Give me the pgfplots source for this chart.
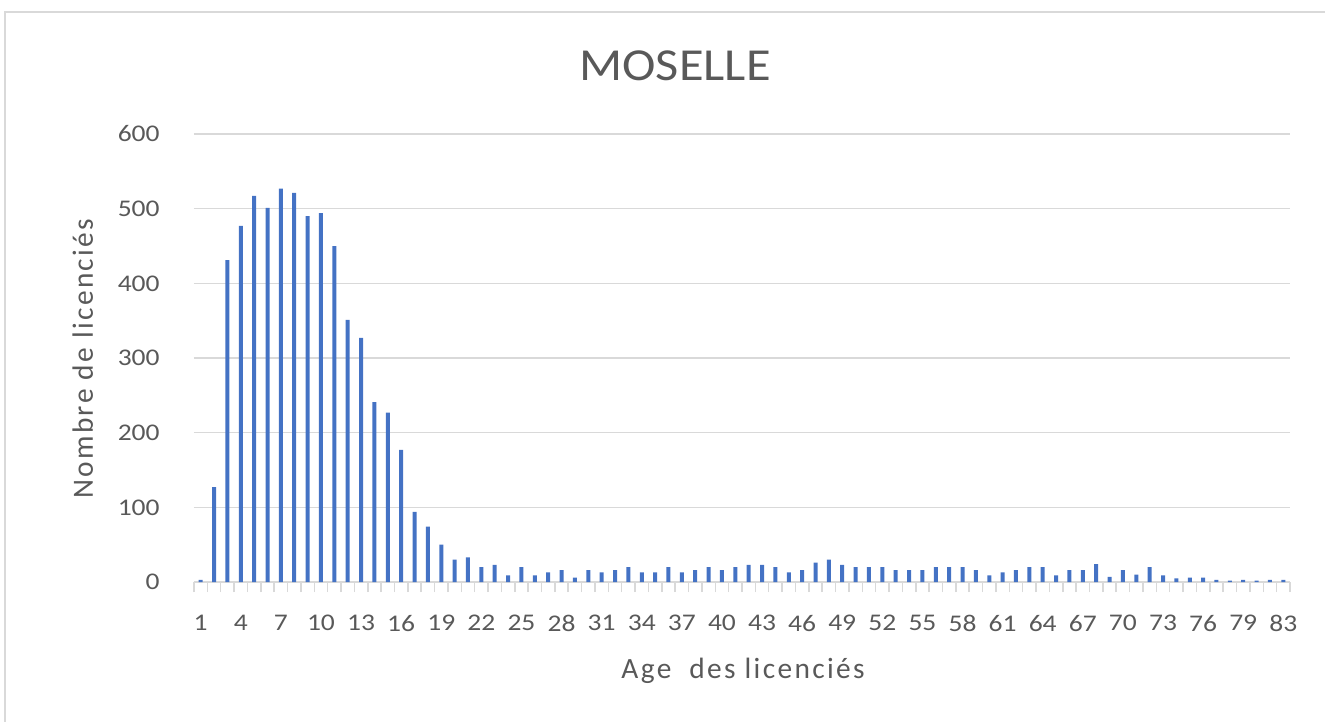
\documentclass[border=0pt]{standalone}
\usepackage{fontspec}
\setmainfont{Carlito}
\newfontfamily\tickfont[FakeStretch=1.15]{Carlito}
\newfontfamily\labelfont[LetterSpace=8]{Carlito}
\newfontfamily\titlefont[FakeStretch=1.1]{Carlito}
\usepackage{pgfplots}
\usepackage{pgfplotstable}
\pgfplotsset{compat=1.18}
\definecolor{txt}{HTML}{595959}
\definecolor{gridc}{HTML}{D9D9D9}
\definecolor{barc}{HTML}{4472C4}

\pgfplotstableread{
idx val
1 3
2 127
3 431
4 477
5 517
6 501
7 527
8 521
9 490
10 494
11 450
12 351
13 327
14 241
15 227
16 177
17 94
18 74
19 50
20 30
21 33
22 20
23 23
24 9
25 20
26 9
27 13
28 16
29 6
30 16
31 13
32 16
33 20
34 13
35 13
36 20
37 13
38 16
39 20
40 16
41 20
42 23
43 23
44 20
45 13
46 16
47 26
48 30
49 23
50 20
51 20
52 20
53 16
54 16
55 16
56 20
57 20
58 20
59 16
60 9
61 13
62 16
63 20
64 20
65 9
66 16
67 16
68 24
69 7
70 16
71 10
72 20
73 9
74 5
75 6
76 6
77 3
78 2
79 3
80 2
81 3
82 3
}\data

\begin{document}
\begin{tikzpicture}
\path[use as bounding box] (-97bp,-70bp) rectangle (565.5bp,291bp);
\draw[gridc, line width=1bp] (-94.5bp,-70bp) -- (-94.5bp,285bp) -- (565.5bp,285bp);
\begin{axis}[
  scale only axis,
  width=548bp, height=224bp,
  xmin=0.5, xmax=82.5, ymin=0, ymax=600,
  ybar, bar width=2bp,
  axis x line*=bottom, axis y line*=left,
  x axis line style={gridc, line width=0.75bp},
  y axis line style={draw=none},
  ytick={0,100,...,600},
  ymajorgrids, grid style={gridc, line width=0.75bp},
  xtick={1,4,...,82},
  xticklabels={1,4,7,10,13,16,19,22,25,28,31,34,37,40,43,46,49,52,55,58,61,64,67,70,73,76,79,83},
  minor xtick={0.5,1.5,...,82.5},
  major tick length=0pt, minor tick length=5bp, tick align=outside,
  every minor tick/.style={gridc, line width=0.75bp},
  /pgf/number format/assume math mode=true,
  xticklabel style={font=\tickfont\fontsize{12}{14}\selectfont, text=txt, inner sep=0pt, anchor=north, yshift=-16.5bp},
  yticklabel style={font=\tickfont\fontsize{12}{14}\selectfont, text=txt, inner sep=0pt, anchor=east, xshift=-17bp},
  title={MOSELLE},
  title style={at={(axis description cs:0.439,1.092)}, anchor=base, font=\titlefont\fontsize{23}{28}\selectfont, text=txt, inner sep=0pt},
  xlabel={Age\ \ des licenciés},
  xlabel style={at={(axis description cs:0.501,-0.2165)}, anchor=base, font=\labelfont\fontsize{14.75}{17}\selectfont, text=txt, inner sep=0pt},
  ylabel={Nombre de licenciés},
  ylabel style={at={(axis description cs:-0.0922,0.498)}, anchor=base, font=\labelfont\fontsize{14.75}{17}\selectfont, text=txt, inner sep=0pt},
]
\addplot[fill=barc, draw=none] table[x=idx, y=val] {\data};
\end{axis}
\end{tikzpicture}
\end{document}
